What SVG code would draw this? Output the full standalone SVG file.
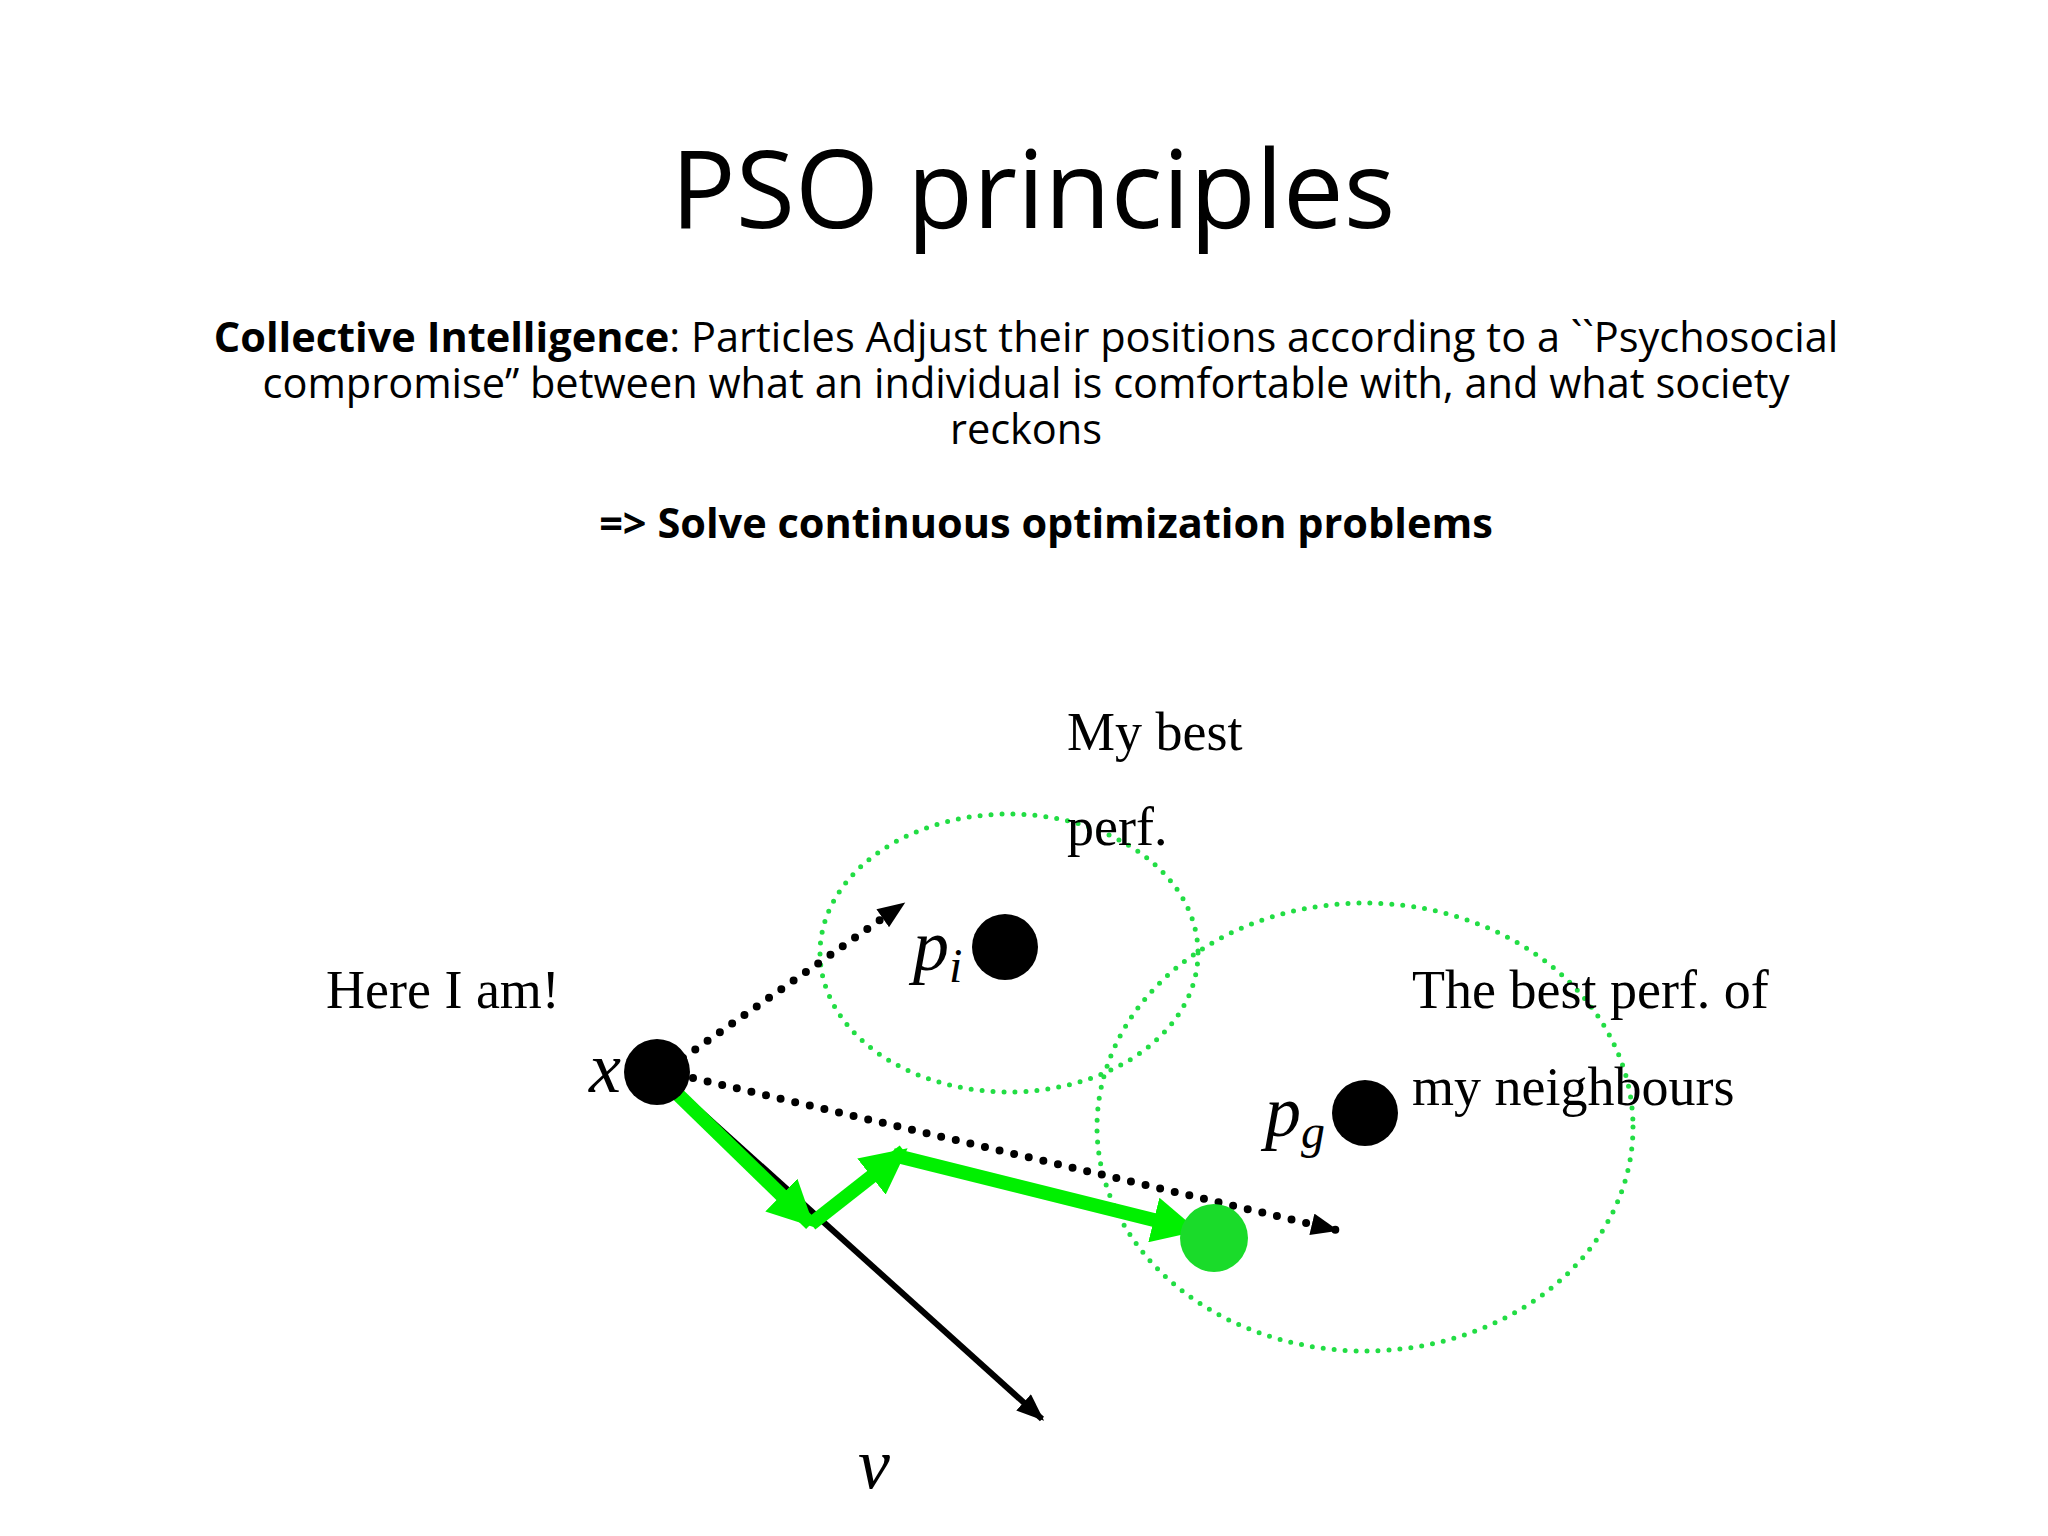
<svg xmlns="http://www.w3.org/2000/svg" width="2048" height="1536" viewBox="0 0 2048 1536">
<style>
.s{font-family:"Open Sans","Noto Sans",sans-serif;fill:#000}
.l{font-family:"Liberation Serif",serif;font-size:54px;fill:#000}
.m{font-family:"Liberation Serif",serif;font-style:italic;fill:#000}
.dot{fill:none;stroke:#000;stroke-width:8;stroke-dasharray:0 15;stroke-linecap:round}
.g{fill:none;stroke:#00f000;stroke-width:14}
.ell{fill:none;stroke:#22dd44;stroke-width:5;stroke-dasharray:0 11;stroke-linecap:round}
</style>
<defs>
<marker id="abk" viewBox="0 0 10 8" refX="9" refY="4" markerWidth="28" markerHeight="22" orient="auto" markerUnits="userSpaceOnUse"><path d="M0,0L10,4L0,8z" fill="#000"/></marker>
<marker id="ag" viewBox="0 0 10 10" refX="9" refY="5" markerWidth="46" markerHeight="46" orient="auto" markerUnits="userSpaceOnUse"><path d="M0,0L10,5L0,10z" fill="#00f000"/></marker>
</defs>
<rect width="2048" height="1536" fill="#fff"/>
<text class="s" x="1033" y="228" font-size="108" text-anchor="middle">PSO principles</text>
<g class="s" font-size="41.5" text-anchor="middle">
<text x="1026" y="352"><tspan font-weight="bold">Collective Intelligence</tspan>: Particles Adjust their positions according to a ``Psychosocial</text>
<text x="1026" y="398">compromise’’ between what an individual is comfortable with, and what society</text>
<text x="1026" y="444">reckons</text>
<text x="1046" y="538" font-weight="bold">=&gt; Solve continuous optimization problems</text>
</g>
<g transform="translate(-7,-10)">
<g id="ellipses">
<ellipse class="ell" cx="1016" cy="963" rx="189" ry="139"/>
<ellipse class="ell" cx="1372" cy="1137" rx="268" ry="224"/>
</g>
<g id="connectors">
<line x1="664" y1="1082" x2="1049" y2="1429" stroke="#000" stroke-width="6" marker-end="url(#abk)"/>
<line class="dot" x1="690" y1="1068" x2="910" y2="914" marker-end="url(#abk)"/>
<line class="dot" x1="700" y1="1088" x2="1343" y2="1240" marker-end="url(#abk)"/>
<line class="g" x1="668" y1="1088" x2="818" y2="1234" marker-end="url(#ag)"/>
<line class="g" x1="818" y1="1234" x2="911" y2="1161" marker-end="url(#ag)"/>
<line class="g" x1="900" y1="1165" x2="1201" y2="1240" marker-end="url(#ag)"/>
</g>
<g id="x"><circle cx="664" cy="1082" r="33"/><text class="m" x="596" y="1102" font-size="72">x</text></g>
<g id="pi"><circle cx="1012" cy="957" r="33"/><text class="m" x="920" y="980" font-size="72">p<tspan font-size="48" dy="12">i</tspan></text></g>
<g id="pg"><circle cx="1372" cy="1123" r="33"/><text class="m" x="1272" y="1146" font-size="72">p<tspan font-size="48" dy="12">g</tspan></text></g>
<g id="new"><circle cx="1221" cy="1248" r="34" fill="#1adb2a"/></g>
<g id="v"><text class="m" x="865" y="1498" font-size="72">v</text></g>
<text class="l" x="333" y="1018">Here I am!</text>
<text class="l" x="1074" y="760">My best</text>
<text class="l" x="1074" y="855">perf.</text>
<text class="l" x="1419" y="1018">The best perf. of</text>
<text class="l" x="1419" y="1115">my neighbours</text>
</g>
</svg>
